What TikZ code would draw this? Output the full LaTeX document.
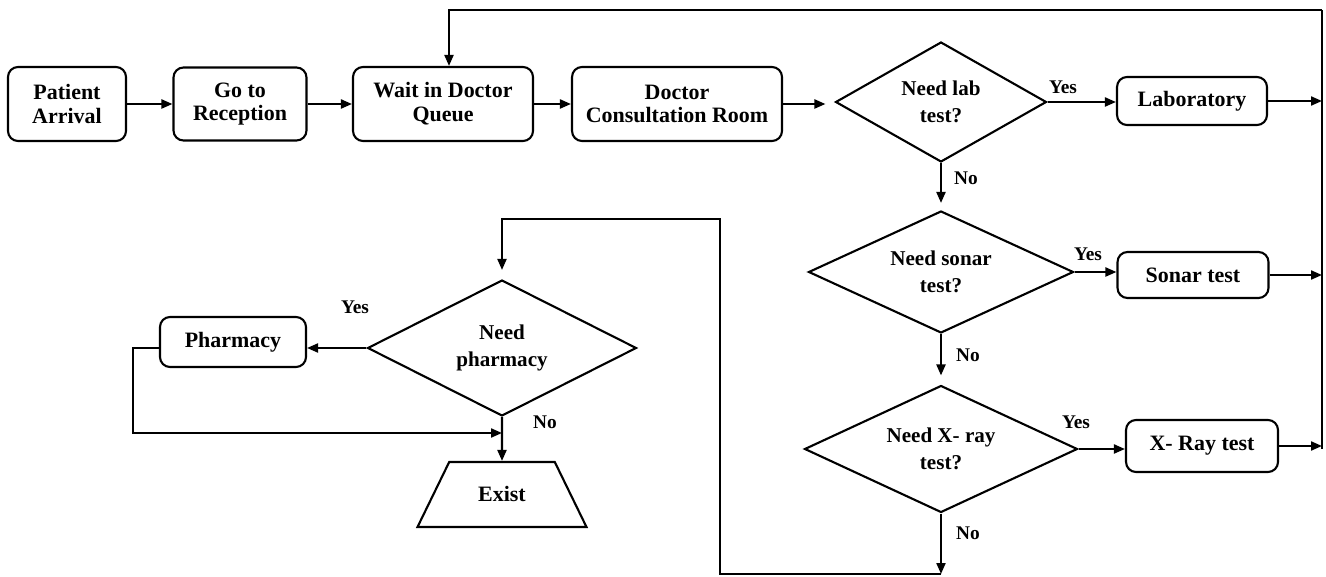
\documentclass[tikz,border=0pt]{standalone}
\usepackage{fontspec}
\setmainfont{Liberation Serif}
\usetikzlibrary{arrows.meta,positioning,shapes.geometric}
\tikzstyle{proc}     = [rectangle, rounded corners=0.2cm, draw=black, line width=1.2pt, align=center, inner sep=0pt, font=\bfseries\fontsize{12.5}{13.5}\selectfont]
\tikzstyle{decision} = [diamond, shape aspect=2, draw=black, line width=1.2pt, align=center, inner sep=0pt, font=\bfseries\fontsize{12}{15}\selectfont]
\tikzstyle{stop}     = [trapezium, trapezium left angle=64, trapezium right angle=64, text height=0.3cm, text depth=0cm, inner xsep=0.58cm, inner ysep=0.5cm, draw=black, line width=1.2pt, font=\bfseries\fontsize{12.5}{13.5}\selectfont]
\tikzstyle{lbl}      = [inner sep=0pt, font=\bfseries\fontsize{11}{12}\selectfont]
\tikzstyle{line}     = [line width=1.2pt]
\tikzstyle{arrow}    = [line width=1.2pt, ->, >={Stealth[inset=0pt,length=2.2mm,width=1.8mm]}]

\begin{document}
\begin{tikzpicture}[x=0.02cm, y=-0.02cm]
    \useasboundingbox (0,0) rectangle (1326,577);

    % first row
    \node[proc, minimum width=2.36cm, minimum height=1.48cm] (arrival) at (67,104) {Patient\\Arrival};
    \node[proc, minimum width=2.66cm, minimum height=1.46cm] (recep) at (240,104) {Go to\\Reception};
    \node[proc, minimum width=3.6cm, minimum height=1.48cm] (queue) at (443,104) {Wait in Doctor\\Queue};
    \node[proc, minimum width=4.2cm, minimum height=1.48cm] (consult) at (677,104) {Doctor\\Consultation Room};
    \node[decision, minimum width=4.22cm, minimum height=2.4cm] (labq) at (941,102) {Need lab\\test?};
    \node[proc, minimum width=3cm, minimum height=0.96cm] (lab) at (1192,101) {Laboratory};

    % tests
    \node[decision, minimum width=5.3cm, minimum height=2.44cm] (sonarq) at (941,272) {Need sonar\\test?};
    \node[proc, minimum width=3.02cm, minimum height=0.92cm] (sonar) at (1193,275) {Sonar test};
    \node[decision, minimum width=5.46cm, minimum height=2.54cm] (xrayq) at (941,449) {Need X- ray\\test?};
    \node[proc, minimum width=3.04cm, minimum height=1.04cm] (xray) at (1202,446) {X- Ray test};

    % pharmacy
    \node[decision, minimum width=5.38cm, minimum height=2.72cm] (pharmq) at (502,348) {Need\\pharmacy};
    \node[proc, minimum width=2.92cm, minimum height=1cm] (pharm) at (233,342) {Pharmacy};
    \node[stop] (exist) at (502,494.5) {Exist};

    % labels
    \node[lbl] (yes1) at (1063,87) {Yes};
    \node[lbl] (yes2) at (1088,254) {Yes};
    \node[lbl] (yes3) at (1076,422) {Yes};
    \node[lbl] (yes4) at (355,307) {Yes};
    \node[lbl] (no1) at (966,178) {No};
    \node[lbl] (no2) at (968,355) {No};
    \node[lbl] (no3) at (968,533) {No};
    \node[lbl] (no4) at (545,422) {No};

    \coordinate (bustop) at (1322,10);
    \coordinate (busbot) at (1322,449);
    \coordinate (xbot) at (941,574);
    \coordinate (loopa) at (720,574);
    \coordinate (loopb) at (720,219);
    \coordinate (pleft) at (133,433);
    \coordinate (merge) at (502,433);

    \draw[arrow] (arrival) -- (recep);
    \draw[arrow] (recep) -- (queue);
    \draw[arrow] (queue) -- (consult);
    \draw[arrow, shorten >=0.18cm] (consult.east) -- (consult.east -| labq.west);
    \draw[arrow] (labq.east) -- (labq.east -| lab.west);
    \draw[arrow] (lab.east) -- (lab.east -| bustop);
    \draw[arrow, shorten >=0.14cm] (labq.south) -- (sonarq.north);
    \draw[arrow] (sonarq.east) -- (sonarq.east -| sonar.west);
    \draw[arrow] (sonar.east) -- (sonar.east -| bustop);
    \draw[arrow, shorten >=0.18cm] (sonarq.south) -- (xrayq.north);
    \draw[arrow] (xrayq.east) -- (xrayq.east -| xray.west);
    \draw[arrow] (xray.east) -- (xray.east -| bustop);
    \draw[line] (busbot) -- (bustop);
    \draw[arrow] (bustop) -| ([xshift=0.12cm]queue.north);

    \draw[arrow] (xrayq.south) -- (xbot);
    \draw[arrow, shorten >=0.18cm] (xbot) -- (loopa) -- (loopb) -| (pharmq.north);
    \draw[arrow] (pharmq.west) -- (pharmq.west -| pharm.east);
    \draw[arrow] (pharmq.west -| pharm.west) -| (pleft) -- (merge);
    \draw[arrow] (pharmq.south) -- (exist.north);
\end{tikzpicture}
\end{document}
